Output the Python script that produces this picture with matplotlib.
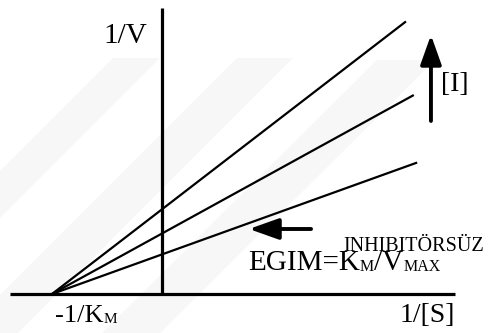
import matplotlib
matplotlib.use("Agg")
import matplotlib.pyplot as plt
from matplotlib.patches import Polygon
from matplotlib.transforms import offset_copy

plt.rcParams['font.family'] = ['Liberation Serif', 'DejaVu Serif']

# Lineweaver-Burk lines, all meeting at -1/Km
km_inv = -1.0
intercepts = [0.36, 0.55, 0.77]      # 1/Vmax for each [I]
x_end = [2.31, 2.28, 2.21]


def rich(ax, x, y, pieces):
    # pieces: (text, fontsize, vertical shift in points)
    fig = ax.figure
    r = fig.canvas.get_renderer()
    dx = 0.0
    for s, size, dy in pieces:
        tr = offset_copy(ax.transData, fig=fig, x=dx, y=dy, units='points')
        t = ax.text(x, y, s, fontsize=size, ha='left', va='baseline', transform=tr)
        w = t.get_window_extent(renderer=r).width
        dx += w * 72 / fig.dpi


def main():
    fig = plt.figure(figsize=(4.88, 3.33), dpi=100)
    ax = fig.add_axes([0, 0, 1, 1])
    ax.set_xlim(-1.4727, 2.9636)
    ax.set_ylim(-0.3545, 2.6727)
    ax.axis('off')

    # faint watermark bands (pixel space, y down)
    bands = [[(113, 58), (160, 58), (-115, 333), (-162, 333)],
             [(237, 58), (293, 58), (18, 333), (-38, 333)],
             [(377, 60), (435, 60), (160, 333), (102, 333)]]
    for b in bands:
        pts = [((px - 162) / 110, (294 - py) / 110) for px, py in b]
        ax.add_patch(Polygon(pts, closed=True, color='#f7f7f7', lw=0, zorder=0))

    # axes
    ax.plot([-1.38, 2.664], [0, 0], color='k', lw=2.3, solid_capstyle='butt')
    ax.plot([0, 0], [0, 2.6], color='k', lw=2.3, solid_capstyle='butt')

    for b, xe in zip(intercepts, x_end):
        slope = b / (-km_inv)
        ax.plot([km_inv, xe], [0, b + slope * xe], color='k', lw=1.6)

    arrow = dict(arrowstyle='-|>,head_length=0.45,head_width=0.16',
                 mutation_scale=40, lw=2.8, color='k', shrinkA=0, shrinkB=0)
    ax.annotate('', xy=(2.445, 2.355), xytext=(2.445, 1.573), arrowprops=arrow)
    ax.annotate('', xy=(0.791, 0.591), xytext=(1.355, 0.591), arrowprops=arrow)

    ax.text(-0.136, 2.282, '1/V', fontsize=21, ha='right', va='baseline')
    rich(ax, -0.973, -0.255, [('-1/K', 19, 0), ('M', 11, -1)])
    ax.text(2.664, -0.255, '1/[S]', fontsize=20, ha='right', va='baseline')
    ax.text(2.536, 1.845, '[I]', fontsize=20, ha='left', va='baseline')
    rich(ax, 0.782, 0.218, [('EGIM=K', 21, 0), ('M', 11.5, -1),
                            ('/V', 21, 0), ('MAX', 11.5, -1)])
    ax.text(1.645, 0.395, 'INHIBITÖRSÜZ', fontsize=14.5, ha='left', va='baseline')

    fig.savefig('out.png', dpi=100)


if __name__ == "__main__":
    main()
